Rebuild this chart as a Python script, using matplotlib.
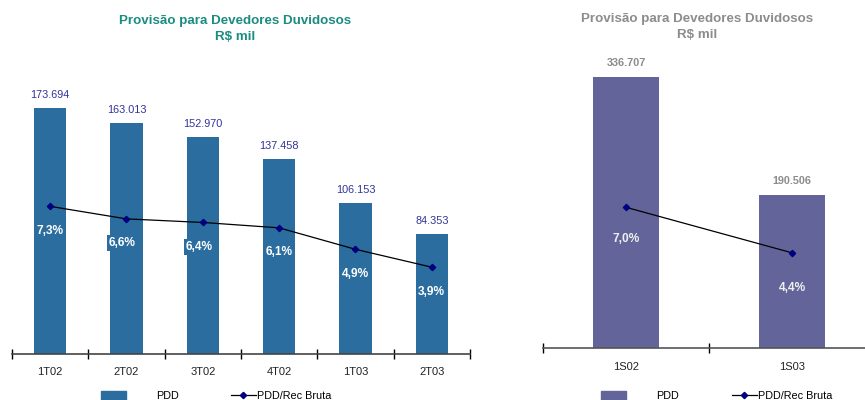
import matplotlib
matplotlib.use("Agg")
import matplotlib.pyplot as plt
import numpy as np
from matplotlib.patches import Patch
from matplotlib.lines import Line2D

plt.rcParams['font.family'] = ['Liberation Sans', 'DejaVu Sans']

# data
quarters = ['1T02', '2T02', '3T02', '4T02', '1T03', '2T03']
pdd_quarter = [173694, 163013, 152970, 137458, 106153, 84353]
pct_quarter = [7.3, 6.6, 6.4, 6.1, 4.9, 3.9]

semesters = ['1S02', '1S03']
pdd_semester = [336707, 190506]
pct_semester = [7.0, 4.4]

title = 'Provisão para Devedores Duvidosos\nR$ mil'

blue = '#2a6d9e'
purple = '#63659a'


def fmt_val(v):
    return f"{v:,}".replace(',', '.')


def fmt_pct(p):
    return f"{p:.1f}%".replace('.', ',')


fig = plt.figure(figsize=(8.65, 4), dpi=100)

# ======================
# left chart (quarters)
# ======================
ax1 = fig.add_axes([12 / 865, 0.11625, 458 / 865, 0.70875])
x1 = np.arange(len(quarters))
ax1.bar(x1, pdd_quarter, width=0.42, color=blue, zorder=1)
ax1.set_ylim(0, 200580)
ax1.set_xlim(-0.5, len(quarters) - 0.5)
for xi, v in zip(x1, pdd_quarter):
    ax1.annotate(fmt_val(v), (xi, v), xytext=(0, 9.5), textcoords='offset points',
                 ha='center', va='center', fontsize=7.8, color='#333399')

ax1b = ax1.twinx()
ax1b.set_ylim(-0.922, 14.92)
ax1b.plot(x1, pct_quarter, color='black', linewidth=0.9, marker='D', markersize=3.2,
          markerfacecolor='#000080', markeredgecolor='#000080')
# labels 2 and 3 sit a bit left of their bars, on a bar-coloured box
shift = [0, -0.06, -0.05, 0, 0, 0]
for xi, p, s in zip(x1, pct_quarter, shift):
    box = dict(boxstyle='square,pad=0.15', fc=blue, ec='none') if s else None
    ax1b.annotate(fmt_pct(p), (xi + s, p), xytext=(0, -17.5), textcoords='offset points',
                  ha='center', va='center', fontsize=8.6, color='white', fontweight='bold',
                  bbox=box)

# ======================
# right chart (semesters)
# ======================
ax2 = fig.add_axes([543 / 865, 0.13, 332 / 865, 0.745])
x2 = np.arange(len(semesters))
ax2.bar(x2, pdd_semester, width=0.40, color=purple, zorder=1)
ax2.set_ylim(0, 370255)
ax2.set_xlim(-0.5, len(semesters) - 0.5)
for xi, v in zip(x2, pdd_semester):
    ax2.annotate(fmt_val(v), (xi, v), xytext=(0, 10), textcoords='offset points',
                 ha='center', va='center', fontsize=7.8, color='#8c8c8c', fontweight='bold')

ax2b = ax2.twinx()
ax2b.set_ylim(-1.04, 15.99)
ax2b.plot(x2, pct_semester, color='black', linewidth=0.9, marker='D', markersize=3.2,
          markerfacecolor='#000080', markeredgecolor='#000080')
for xi, p, off in zip(x2, pct_semester, [-22.5, -25]):
    ax2b.annotate(fmt_pct(p), (xi, p), xytext=(0, off), textcoords='offset points',
                  ha='center', va='center', fontsize=8.6, color='#f0f0f0', fontweight='bold')

# axis styling
for ax, axb, cats, spine_col in [(ax1, ax1b, quarters, '#444444'), (ax2, ax2b, semesters, '#555555')]:
    for a in (ax, axb):
        for side in ['top', 'right', 'left']:
            a.spines[side].set_visible(False)
        a.set_yticks([])
    axb.spines['bottom'].set_visible(False)
    axb.tick_params(bottom=False, labelbottom=False)
    ax.spines['bottom'].set_color(spine_col)
    ax.spines['bottom'].set_linewidth(1.2)
    ax.spines['bottom'].set_zorder(3)
    ax.set_xticks(np.arange(len(cats)))
    ax.set_xticklabels(cats, fontsize=8, color='#222222')
    ax.set_xticks(np.arange(len(cats) + 1) - 0.5, minor=True)
    ax.tick_params(axis='x', which='major', length=0, pad=10)
    ax.tick_params(axis='x', which='minor', length=7, direction='inout', width=1, color='black')
    ax.patch.set_alpha(0)
    axb.patch.set_alpha(0)

# titles
fig.text(235 / 865, 1 - 29 / 400, title, ha='center', va='center', fontsize=9.6,
         fontweight='bold', color='#1a8c80', linespacing=1.35)
fig.text(697 / 865, 1 - 27 / 400, title, ha='center', va='center', fontsize=9.6,
         fontweight='bold', color='#8c8c8c', linespacing=1.35)

# legends
def add_legend(handle, label, x_px, pad):
    fig.legend([handle], [label], loc='center left', bbox_to_anchor=(x_px / 865, 1 - 396 / 400),
               frameon=False, borderpad=0, borderaxespad=0, fontsize=7.8,
               handlelength=2.3, handleheight=1.0, handletextpad=pad)


add_legend(Patch(color=blue), 'PDD', 101, 2.8)
add_legend(Line2D([], [], color='black', linewidth=0.9, marker='D', markersize=3.2,
                  markerfacecolor='#000080', markeredgecolor='#000080'), 'PDD/Rec Bruta', 231, 0.1)
add_legend(Patch(color=purple), 'PDD', 601, 2.8)
add_legend(Line2D([], [], color='black', linewidth=0.9, marker='D', markersize=3.2,
                  markerfacecolor='#000080', markeredgecolor='#000080'), 'PDD/Rec Bruta', 732, 0.1)

fig.savefig('out.png', dpi=100)
